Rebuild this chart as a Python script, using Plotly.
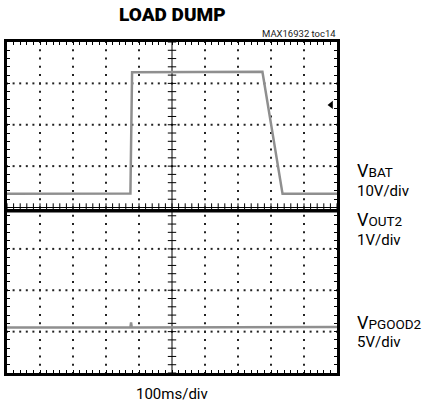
import plotly.graph_objects as go

# ---- data (screen divisions: x 0..10, y 0..8) ----
t_vbat = [0.0, 3.74, 3.79, 7.74, 8.35, 10.0]
v_vbat = [4.33, 4.34, 7.27, 7.28, 4.33, 4.33]

t_vout2 = [0.0, 10.0]
v_vout2 = [3.92, 3.92]

t_pgood = [0.0, 3.74, 3.76, 3.78, 10.0]
v_pgood = [1.10, 1.10, 1.22, 1.10, 1.11]

marker_pos = (9.82, 6.48)

SUBSTYLE = "<span style='font-size:13.5px'>{}</span>"
labels = [("V" + SUBSTYLE.format("BAT"), 170, 18),
          ("10V/div", 190.5, 15),
          ("V" + SUBSTYLE.format("OUT2"), 219, 18),
          ("1V/div", 240, 15),
          ("V" + SUBSTYLE.format("PGOOD2"), 322, 18),
          ("5V/div", 341.5, 15)]

FONT = "Roboto, Liberation Sans, sans-serif"
NX, NY, SUB = 10, 8, 5

fig = go.Figure()

# dotted graticule
gx, gy = [], []
for i in range(1, NX):
    if i == NX // 2:
        continue
    for k in range(NY * SUB + 1):
        gx.append(i); gy.append(k / SUB)
for j in range(1, NY):
    if j == NY // 2:
        continue
    for k in range(NX * SUB + 1):
        gx.append(k / SUB); gy.append(j)
fig.add_trace(go.Scatter(x=gx, y=gy, mode="markers", hoverinfo="skip",
                         marker=dict(symbol="square", size=2, color="#222")))

# center lines with ticks
fig.add_trace(go.Scatter(x=[NX / 2, NX / 2], y=[0, NY], mode="lines",
                         line=dict(color="black", width=1), hoverinfo="skip"))
fig.add_trace(go.Scatter(x=[0, NX], y=[NY / 2, NY / 2], mode="lines",
                         line=dict(color="black", width=1), hoverinfo="skip"))
fig.add_trace(go.Scatter(x=[NX / 2] * (NY * SUB + 1), y=[k / SUB for k in range(NY * SUB + 1)],
                         mode="markers", hoverinfo="skip",
                         marker=dict(symbol="line-ew", size=6, line=dict(width=1, color="black"))))
fig.add_trace(go.Scatter(x=[k / SUB for k in range(NX * SUB + 1)], y=[NY / 2] * (NX * SUB + 1),
                         mode="markers", hoverinfo="skip",
                         marker=dict(symbol="line-ns", size=6, line=dict(width=1, color="black"))))

# traces
fig.add_trace(go.Scatter(x=t_pgood, y=v_pgood, mode="lines",
                         line=dict(color="#8f8f8f", width=2.5)))
fig.add_trace(go.Scatter(x=t_vbat, y=v_vbat, mode="lines",
                         line=dict(color="#8f8f8f", width=2.5)))
fig.add_trace(go.Scatter(x=t_vout2, y=v_vout2, mode="lines",
                         line=dict(color="black", width=3.5)))
fig.add_trace(go.Scatter(x=[marker_pos[0]], y=[marker_pos[1]], mode="markers",
                         marker=dict(symbol="triangle-left", size=7, color="black")))

L, R, T, B, W, H = 7, 88, 42, 36, 425, 409
PW, PH = W - L - R, H - T - B


def px(xp):
    return (xp - L) / PW


def py(yp):
    return (H - B - yp) / PH


ann = []
for txt, yp, fs in labels:
    ann.append(dict(x=px(355), y=py(yp), xref="paper", yref="paper", text=txt, showarrow=False,
                    xanchor="left", yanchor="middle", font=dict(size=fs, color="black", family=FONT)))
ann.append(dict(x=px(172), y=py(15), xref="paper", yref="paper", text="LOAD DUMP", showarrow=False,
                xanchor="center", yanchor="middle",
                font=dict(size=19, color="black", family=FONT, weight=900)))
ann.append(dict(x=px(338), y=py(33.5), xref="paper", yref="paper", text="MAX16932 toc14", showarrow=False,
                xanchor="right", yanchor="middle", font=dict(size=9.5, color="#222", family=FONT)))
ann.append(dict(x=px(172), y=py(394), xref="paper", yref="paper", text="100ms/div", showarrow=False,
                xanchor="center", yanchor="middle", font=dict(size=15, color="black", family=FONT)))

axis_common = dict(showgrid=False, zeroline=False, showticklabels=False,
                   showline=True, linecolor="black", linewidth=2.5, mirror="allticks",
                   ticks="inside", ticklen=3, tickwidth=1, tickcolor="black",
                   tick0=0, dtick=1 / SUB, fixedrange=True)
fig.update_layout(
    width=W, height=H,
    margin=dict(l=L, r=R, t=T, b=B),
    paper_bgcolor="white", plot_bgcolor="white",
    showlegend=False,
    xaxis=dict(range=[0, NX], **axis_common),
    yaxis=dict(range=[0, NY], **axis_common),
    annotations=ann,
)
fig.write_html("out.html", config={"displayModeBar": False},
               post_script="document.body.style.margin='0';")
